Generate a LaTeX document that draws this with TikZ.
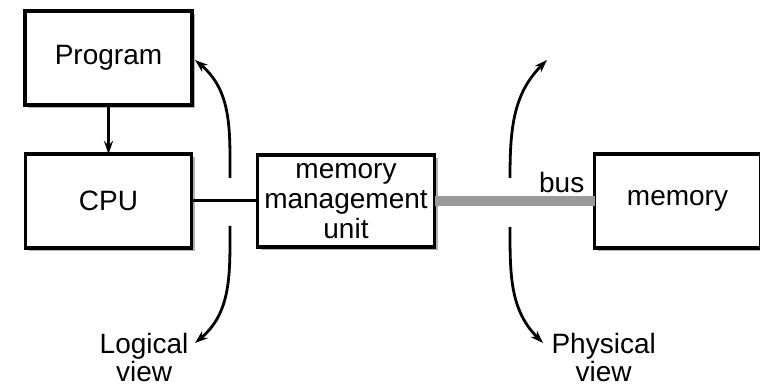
\documentclass[tikz,border=0pt]{standalone}
\usepackage{fontspec}
\setmainfont{Liberation Sans}
\usetikzlibrary{calc,arrows.meta,positioning,shadows}

\begin{document}
\begin{tikzpicture}[x=1pt,y=1pt,
        box/.style={draw,line width=3.4pt,align=center,minimum height=94pt,inner sep=0pt,outer sep=0pt,
          font=\fontsize{28}{30}\selectfont,fill=white,
          drop shadow={shadow xshift=3pt,shadow yshift=-3pt,fill=black!30,opacity=1}},
        view/.style={line width=2.8pt,-{Stealth[length=13pt,width=9pt]}},
        lbl/.style={align=center,font=\fontsize{28}{28}\selectfont}
      ]
  \useasboundingbox (0,0) rectangle (760,388);

  \node   (program) [box,minimum width=167pt] at (108.5,330) {Program};
  \node   (cpu) [box,minimum width=166pt,below=49pt of program] {CPU};
  \node   (mmu) [box,minimum width=177pt,minimum height=92pt,right=66pt of cpu] {memory\\management\\unit};
  \node   (memory) [box,minimum width=166pt,right=160pt of mmu] {memory};

  \draw[view] (program) -- (cpu);
  \draw[line width=3pt] (cpu) -- (mmu);
  \draw[line width=10pt,black!40] (mmu.east) -- (memory.west);
  \node   (bus) [lbl,anchor=south east,inner sep=2pt] at ($(memory.west)+(-8,6)$) {bus};

  % logical view
  \coordinate (lup) at (230,210);
  \coordinate (ldown) at (230,162);
  \draw[view] (lup) to[out=90,in=-40] (195,328) coordinate (ltop);
  \draw[view] (ldown) to[out=-90,in=40] (195,45) coordinate (lbot);
  \node   (logical) [lbl,anchor=east] at ($(lbot)+(-3,-14)$) {Logical\\view};

  % physical view
  \coordinate (pup) at (510,210);
  \coordinate (pdown) at (510,161);
  \draw[view] (pup) to[out=90,in=-135] (547,328) coordinate (ptop);
  \draw[view] (pdown) to[out=-90,in=135] (543,45) coordinate (pbot);
  \node   (physical) [lbl,anchor=west] at ($(pbot)+(5,-14)$) {Physical\\view};
\end{tikzpicture}
\end{document}
